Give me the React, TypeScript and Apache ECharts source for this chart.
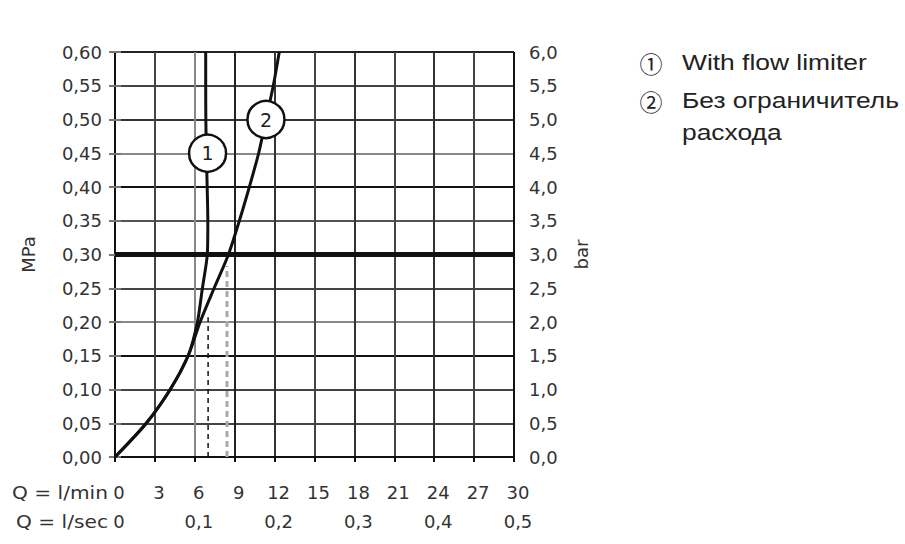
import React, { useEffect, useRef } from "react";
import * as echarts from "echarts";

// Flow rate Q (l/min) and pressure P (MPa)
const pressureLevels = [0, 0.05, 0.1, 0.15, 0.2, 0.25, 0.3, 0.35, 0.4, 0.45, 0.5, 0.55, 0.6];
const flowLimiterQ = [0, 2.35, 4.15, 5.5, 6.2, 6.57, 6.94, 6.98, 6.93, 6.87, 6.83, 6.82, 6.82];
const noLimiterQ = [0, 2.35, 4.15, 5.5, 6.4, 7.45, 8.53, 9.35, 10.1, 10.8, 11.35, 11.9, 12.35];

// reference drop lines
const limiterDropQ = [7.0, 7.0];
const limiterDropP = [0, 0.207];
const openDropQ = [8.42, 8.42];
const openDropP = [0, 0.283];

// curve markers
const markerLabels = ["1", "2"];
const markerQ = [6.96, 11.35];
const markerP = [0.45, 0.5];

const operatingPressure = 0.3;

const legendItems = ["With flow limiter", "Без ограничитель", "расхода"];
const legendSymbols = ["①", "②"];

const yGridColors = ["#111", "#444", "#444", "#111", "#888", "#444", "#111", "#555", "#111", "#888", "#333", "#444", "#222"];
const xGridColors = ["#111", "#444", "#888", "#222", "#333", "#444", "#333", "#444", "#333", "#444", "#111"];

const pairs = (xs: number[], ys: number[]) => xs.map((x, i) => [x, ys[i]]);

export default function App() {
  const ref = useRef<HTMLDivElement>(null);

  useEffect(() => {
    if (!ref.current) return;
    const chart = echarts.init(ref.current, null, { renderer: "svg" });
    const font = "DejaVu Sans";
    const labelColor = "#333";

    chart.setOption({
      animation: false,
      backgroundColor: "#fff",
      grid: { left: 115, right: 391, top: 52, bottom: 87, containLabel: false },
      xAxis: [
        {
          type: "value",
          position: "bottom",
          min: 0,
          max: 30,
          interval: 3,
          axisLine: { show: true, onZero: false, lineStyle: { color: "#111", width: 2 } },
          axisTick: { show: true, length: 5, lineStyle: { color: "#111", width: 2 } },
          axisLabel: {
            margin: 26,
            color: labelColor,
            fontFamily: font,
            fontSize: 18,
            padding: [0, 0, 0, 8],
            formatter: (v: number) => String(v),
          },
          splitLine: { show: true, lineStyle: { color: xGridColors, width: 2 } },
        },
        {
          type: "value",
          position: "bottom",
          min: 0,
          max: 0.5,
          interval: 0.1,
          axisLine: { show: false },
          axisTick: { show: false },
          splitLine: { show: false },
          axisLabel: {
            margin: 55,
            color: labelColor,
            fontFamily: font,
            fontSize: 18,
            padding: [0, 0, 0, 8],
            formatter: (v: number) => (v === 0 ? "0" : v.toFixed(1).replace(".", ",")),
          },
        },
      ],
      yAxis: [
        {
          type: "value",
          position: "left",
          min: 0,
          max: 0.6,
          interval: 0.05,
          name: "MPa",
          nameLocation: "middle",
          nameRotate: 90,
          nameGap: 78,
          nameTextStyle: { color: labelColor, fontFamily: font, fontSize: 18 },
          axisLine: { show: true, lineStyle: { color: "#111", width: 2 } },
          axisTick: { show: true, length: 6, lineStyle: { color: "#777", width: 2 } },
          axisLabel: {
            margin: 13,
            color: labelColor,
            fontFamily: font,
            fontSize: 18,
            formatter: (v: number) => v.toFixed(2).replace(".", ","),
          },
          splitLine: { show: true, lineStyle: { color: yGridColors, width: 2 } },
        },
        {
          type: "value",
          position: "right",
          min: 0,
          max: 6,
          interval: 0.5,
          name: "bar",
          nameLocation: "middle",
          nameRotate: 90,
          nameGap: 58,
          nameTextStyle: { color: labelColor, fontFamily: font, fontSize: 18 },
          axisLine: { show: true, lineStyle: { color: "#111", width: 2 } },
          axisTick: { show: true, length: 6, lineStyle: { color: "#777", width: 2 } },
          axisLabel: {
            margin: 15,
            color: labelColor,
            fontFamily: font,
            fontSize: 18,
            formatter: (v: number) => v.toFixed(1).replace(".", ","),
          },
          splitLine: { show: false },
        },
      ],
      series: [
        {
          name: "With flow limiter",
          type: "line",
          xAxisIndex: 0,
          yAxisIndex: 0,
          data: pairs(flowLimiterQ, pressureLevels),
          smooth: 0.25,
          symbol: "none",
          lineStyle: { color: "#111", width: 3 },
          z: 4,
          markLine: {
            silent: true,
            symbol: "none",
            label: { show: false },
            lineStyle: { color: "#111", width: 5, type: "solid" },
            data: [{ yAxis: operatingPressure }],
          },
        },
        {
          name: "Без ограничитель расхода",
          type: "line",
          xAxisIndex: 0,
          yAxisIndex: 0,
          data: pairs(noLimiterQ, pressureLevels),
          smooth: 0.3,
          symbol: "none",
          lineStyle: { color: "#111", width: 3 },
          z: 4,
        },
        {
          type: "line",
          xAxisIndex: 0,
          yAxisIndex: 0,
          data: pairs(limiterDropQ, limiterDropP),
          symbol: "none",
          lineStyle: { color: "#111", width: 1.5, type: [5, 4] },
          z: 3,
        },
        {
          type: "line",
          xAxisIndex: 0,
          yAxisIndex: 0,
          data: pairs(openDropQ, openDropP),
          symbol: "none",
          lineStyle: { color: "#aaa", width: 3, type: [6, 4] },
          z: 3,
        },
        {
          type: "scatter",
          xAxisIndex: 0,
          yAxisIndex: 0,
          data: markerQ.map((q, i) => ({ value: [q, markerP[i]], name: markerLabels[i] })),
          symbol: "circle",
          symbolSize: 37,
          itemStyle: { color: "#fff", borderColor: "#111", borderWidth: 2.5, opacity: 1 },
          label: {
            show: true,
            position: "inside",
            formatter: (p: any) => p.name,
            color: "#222",
            fontFamily: font,
            fontSize: 19,
          },
          z: 6,
        },
      ],
      graphic: [
        {
          type: "text",
          x: 108,
          y: 493,
          scaleX: 1.12,
          style: { text: "Q = l/min", font: `18px "${font}"`, fill: labelColor, align: "right", verticalAlign: "middle" },
        },
        {
          type: "text",
          x: 108,
          y: 522,
          scaleX: 1.12,
          style: { text: "Q = l/sec", font: `18px "${font}"`, fill: labelColor, align: "right", verticalAlign: "middle" },
        },
        {
          type: "text",
          x: 651,
          y: 63,
          style: { text: legendSymbols[0], font: '23px "Noto Sans CJK SC"', fill: "#222", align: "center", verticalAlign: "middle" },
        },
        {
          type: "text",
          x: 651,
          y: 101,
          style: { text: legendSymbols[1], font: '23px "Noto Sans CJK SC"', fill: "#222", align: "center", verticalAlign: "middle" },
        },
        {
          type: "text",
          x: 682,
          y: 62,
          scaleX: 1.2,
          style: { text: legendItems[0], font: '22px "Liberation Sans"', fill: "#222", align: "left", verticalAlign: "middle" },
        },
        {
          type: "text",
          x: 682,
          y: 100,
          scaleX: 1.2,
          style: { text: legendItems[1], font: '22px "Liberation Sans"', fill: "#222", align: "left", verticalAlign: "middle" },
        },
        {
          type: "text",
          x: 682,
          y: 132,
          scaleX: 1.2,
          style: { text: legendItems[2], font: '22px "Liberation Sans"', fill: "#222", align: "left", verticalAlign: "middle" },
        },
      ],
    });

    return () => chart.dispose();
  }, []);

  return (
    <div
      ref={ref}
      style={{ position: "absolute", left: 0, top: 0, width: 905, height: 544, background: "#fff" }}
    />
  );
}
